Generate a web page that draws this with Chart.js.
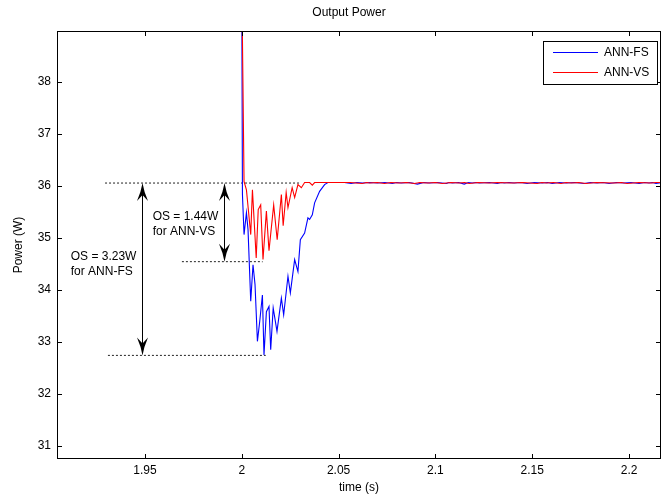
<!DOCTYPE html>
<html>
<head>
<meta charset="utf-8">
<title>Output Power</title>
<script src="https://cdn.jsdelivr.net/npm/chart.js@4.4.0/dist/chart.umd.min.js"></script>
<style>
  body { margin: 0; background: #fff; }
  canvas { display: block; }
</style>
</head>
<body>
<canvas id="myChart" width="662" height="501"></canvas>
<script>
'use strict';

let chartTitle = 'Output Power';
let seriesNames = ['ANN-FS', 'ANN-VS'];

// ANN-FS output power after the step at t = 2 s
let timeFS = [2.0, 2.00036, 2.00119, 2.00242, 2.00325, 2.00464, 2.00582, 2.00686, 2.00809, 2.00928,
  2.01067, 2.01149, 2.01273, 2.01407, 2.01495, 2.01624, 2.01820, 2.02046, 2.02165, 2.02387,
  2.02510, 2.02732, 2.02902, 2.03026, 2.03247, 2.03418, 2.03505, 2.03644, 2.03763, 2.04021,
  2.04278, 2.04448, 2.0530, 2.0565, 2.0595, 2.0624, 2.0660, 2.0701, 2.0740, 2.0778,
  2.0800, 2.0825, 2.0865, 2.0907, 2.0940, 2.0969, 2.1010, 2.1057, 2.1070, 2.1088,
  2.1120, 2.1149, 2.1170, 2.1191, 2.1210, 2.1227, 2.1280, 2.1320, 2.1340, 2.1356,
  2.1380, 2.1407, 2.1440, 2.1474, 2.1510, 2.1552, 2.1580, 2.1603, 2.1640, 2.1675,
  2.1720, 2.1768, 2.1800, 2.1835, 2.1865, 2.1897, 2.1935, 2.1974, 2.2010, 2.2052,
  2.2080, 2.2103, 2.2120, 2.2139, 2.2170];
let powerFS = [40, 35.83, 35.06, 35.48, 35.15, 33.78, 34.48, 34.10, 33.01, 33.39,
  33.90, 32.75, 33.58, 33.68, 32.85, 33.65, 33.20, 33.84, 33.52, 34.26,
  33.94, 34.58, 34.35, 34.96, 35.09, 35.38, 35.35, 35.44, 35.67, 35.89,
  36.02, 36.06, 36.06, 36.04, 36.06, 36.05, 36.06, 36.05, 36.06, 36.04,
  36.06, 36.05, 36.06, 36.03, 36.06, 36.05, 36.06, 36.04, 36.06, 36.05,
  36.06, 36.03, 36.06, 36.05, 36.06, 36.05, 36.06, 36.04, 36.06, 36.05,
  36.06, 36.05, 36.06, 36.04, 36.06, 36.05, 36.06, 36.04, 36.06, 36.05,
  36.06, 36.04, 36.06, 36.05, 36.06, 36.04, 36.06, 36.05, 36.06, 36.04,
  36.06, 36.05, 36.06, 36.04, 36.06];

// ANN-VS output power
let timeVS = [2.0, 2.00119, 2.00242, 2.00464, 2.00552, 2.00747, 2.00851, 2.00979, 2.01098, 2.01273,
  2.01407, 2.01649, 2.01830, 2.02046, 2.02139, 2.02294, 2.02387, 2.02603, 2.02732, 2.02902,
  2.03077, 2.03247, 2.03505, 2.03644, 2.03763, 2.0400, 2.0480, 2.0560, 2.0622, 2.0645,
  2.0660, 2.0700, 2.0737, 2.0770, 2.0814, 2.0850, 2.0892, 2.0920, 2.0959, 2.1000,
  2.1036, 2.1080, 2.1124, 2.1150, 2.1175, 2.1220, 2.1278, 2.1320, 2.1397, 2.1450,
  2.1526, 2.1550, 2.1572, 2.1610, 2.1649, 2.1675, 2.1701, 2.1740, 2.1778, 2.1830,
  2.1923, 2.1960, 2.1990, 2.2050, 2.2113, 2.2140, 2.2170];
let powerVS = [40, 36.08, 35.92, 35.06, 35.92, 34.61, 35.54, 35.63, 34.58, 35.51,
  34.75, 35.63, 34.96, 35.83, 35.23, 35.87, 35.58, 35.96, 35.77, 36.02,
  35.96, 36.06, 36.06, 36.01, 36.06, 36.06, 36.06, 36.06, 36.04, 36.06,
  36.05, 36.06, 36.04, 36.06, 36.05, 36.06, 36.04, 36.06, 36.05, 36.06,
  36.04, 36.06, 36.05, 36.06, 36.04, 36.06, 36.05, 36.06, 36.05, 36.06,
  36.04, 36.06, 36.05, 36.06, 36.04, 36.06, 36.05, 36.06, 36.04, 36.06,
  36.05, 36.06, 36.04, 36.06, 36.05, 36.06, 36.06];

let xTickValues = [1.95, 2, 2.05, 2.1, 2.15, 2.2];
let yTickValues = [31, 32, 33, 34, 35, 36, 37, 38];

// overshoot marks: steady level, ANN-VS minimum, ANN-FS minimum
let osLevels = [36.05, 34.54, 32.74];
let osLineStart = [1.9294, 1.9691, 1.9309];
let osLineEnd = [2.0299, 2.0108, 2.0124];
// arrows: ANN-VS then ANN-FS
let osArrowTime = [1.9907, 1.9486];
let osArrowBottom = [34.54, 32.74];
let osLabels = [['OS = 1.44W', 'for ANN-VS'], ['OS = 3.23W', 'for ANN-FS']];
let osLabelTime = [1.9540, 1.9117];
let osLabelPower = [35.41, 34.63];

let fontName = '"Liberation Sans", Arial, Helvetica, sans-serif';

function toPoints(xs, ys){
    let pts = [];
    for (let i = 0; i < xs.length; i++){
        pts.push({x: xs[i], y: ys[i]});
    }
    return pts;
}

function arrowHead(ctx, x, y, dir){
    // dir 1 = tip at top, -1 = tip at bottom
    ctx.beginPath();
    ctx.moveTo(x, y);
    ctx.quadraticCurveTo(x - 1.5, y + dir * 9, x - 5.5, y + dir * 18);
    ctx.lineTo(x, y + dir * 12);
    ctx.lineTo(x + 5.5, y + dir * 18);
    ctx.quadraticCurveTo(x + 1.5, y + dir * 9, x, y);
    ctx.closePath();
    ctx.fill();
}

let matlabBox = {
    id: 'matlabBox',
    afterDatasetsDraw(chart){
        let ctx = chart.ctx;
        let a = chart.chartArea;
        let sx = chart.scales.x;
        let sy = chart.scales.y;
        ctx.save();
        ctx.strokeStyle = '#000';
        ctx.fillStyle = '#000';
        ctx.lineWidth = 1;

        // frame and inward ticks
        ctx.strokeRect(a.left + 0.5, a.top + 0.5, a.right - a.left - 1, a.bottom - a.top - 1);
        ctx.beginPath();
        for (let i = 0; i < xTickValues.length; i++){
            let px = Math.round(sx.getPixelForValue(xTickValues[i])) + 0.5;
            ctx.moveTo(px, a.bottom); ctx.lineTo(px, a.bottom - 5);
            ctx.moveTo(px, a.top); ctx.lineTo(px, a.top + 5);
        }
        for (let i = 0; i < yTickValues.length; i++){
            let py = Math.round(sy.getPixelForValue(yTickValues[i])) + 0.5;
            ctx.moveTo(a.left, py); ctx.lineTo(a.left + 5, py);
            ctx.moveTo(a.right, py); ctx.lineTo(a.right - 5, py);
        }
        ctx.stroke();

        // title, centred a little left of the axes centre like the original
        ctx.font = '12px ' + fontName;
        ctx.textAlign = 'center';
        ctx.textBaseline = 'middle';
        ctx.fillText(chartTitle, (a.left + a.right) / 2 - 10, 13);

        // double arrows
        for (let i = 0; i < osArrowTime.length; i++){
            let px = Math.round(sx.getPixelForValue(osArrowTime[i])) + 0.5;
            let top = sy.getPixelForValue(osLevels[0]);
            let bottom = sy.getPixelForValue(osArrowBottom[i]);
            ctx.beginPath();
            ctx.moveTo(px, top + 6);
            ctx.lineTo(px, bottom - 6);
            ctx.stroke();
            arrowHead(ctx, px, top, 1);
            arrowHead(ctx, px, bottom, -1);
        }

        // overshoot text
        ctx.textAlign = 'left';
        for (let i = 0; i < osLabels.length; i++){
            let px = sx.getPixelForValue(osLabelTime[i]);
            let py = sy.getPixelForValue(osLabelPower[i]);
            ctx.fillText(osLabels[i][0], px, py);
            ctx.fillText(osLabels[i][1], px, py + 15);
        }

        // legend box, top right
        let lx = a.right - 118;
        let ly = a.top + 10;
        ctx.fillStyle = '#fff';
        ctx.fillRect(lx, ly, 114, 43);
        ctx.strokeRect(lx + 0.5, ly + 0.5, 114, 43);
        let colors = ['#0000ff', '#ff0000'];
        for (let i = 0; i < seriesNames.length; i++){
            let rowY = ly + 11.5 + i * 20;
            ctx.strokeStyle = colors[i];
            ctx.beginPath();
            ctx.moveTo(lx + 10, rowY);
            ctx.lineTo(lx + 55, rowY);
            ctx.stroke();
            ctx.fillStyle = '#000';
            ctx.fillText(seriesNames[i], lx + 61, rowY);
        }
        ctx.restore();
    }
};

let dashedSets = [];
for (let i = 0; i < osLevels.length; i++){
    dashedSets.push({
        label: 'os' + i,
        data: [{x: osLineStart[i], y: osLevels[i]}, {x: osLineEnd[i], y: osLevels[i]}],
        borderColor: '#222',
        borderWidth: 1,
        borderDash: [2, 2],
        pointRadius: 0,
        order: 2
    });
}

let chartData = {
    type: 'line',
    data: {
        datasets: [{
            label: seriesNames[0],
            data: toPoints(timeFS, powerFS),
            borderColor: '#0000ff',
            borderWidth: 1.1,
            pointRadius: 0,
            tension: 0,
            order: 1
        },
        {
            label: seriesNames[1],
            data: toPoints(timeVS, powerVS),
            borderColor: '#ff0000',
            borderWidth: 1.1,
            pointRadius: 0,
            tension: 0,
            order: 0
        }].concat(dashedSets)
    },
    options: {
        responsive: false,
        animation: false,
        devicePixelRatio: 1,
        layout: { padding: { top: 31, right: 1, bottom: 0, left: 0 } },
        plugins: {
            legend: { display: false },
            tooltip: { enabled: false },
            title: { display: false }
        },
        scales: {
            x: {
                type: 'linear',
                min: 1.9046,
                max: 2.2165,
                afterBuildTicks: function(scale){
                    scale.ticks = xTickValues.map(v => ({value: v}));
                },
                afterFit: function(scale){ scale.height = 42; },
                grid: { display: false, drawTicks: false },
                border: { display: false },
                ticks: {
                    color: '#000',
                    padding: 4,
                    maxRotation: 0,
                    autoSkip: false,
                    font: { family: fontName, size: 12 },
                    callback: v => String(+v.toFixed(2))
                },
                title: {
                    display: true,
                    text: 'time (s)',
                    color: '#000',
                    font: { family: fontName, size: 12 },
                    padding: { top: 0, bottom: 6 }
                }
            },
            y: {
                type: 'linear',
                min: 30.75,
                max: 38.97,
                afterBuildTicks: function(scale){
                    scale.ticks = yTickValues.map(v => ({value: v}));
                },
                afterFit: function(scale){ scale.width = 57; },
                grid: { display: false, drawTicks: false },
                border: { display: false },
                ticks: {
                    color: '#000',
                    padding: 6,
                    autoSkip: false,
                    font: { family: fontName, size: 12 }
                },
                title: {
                    display: true,
                    text: 'Power (W)',
                    color: '#000',
                    font: { family: fontName, size: 12 },
                    padding: { top: 11, bottom: 0 }
                }
            }
        }
    },
    plugins: [matlabBox]
};

let ctx = document.getElementById('myChart').getContext('2d');
let myChart = new Chart(ctx, chartData);
</script>
</body>
</html>
